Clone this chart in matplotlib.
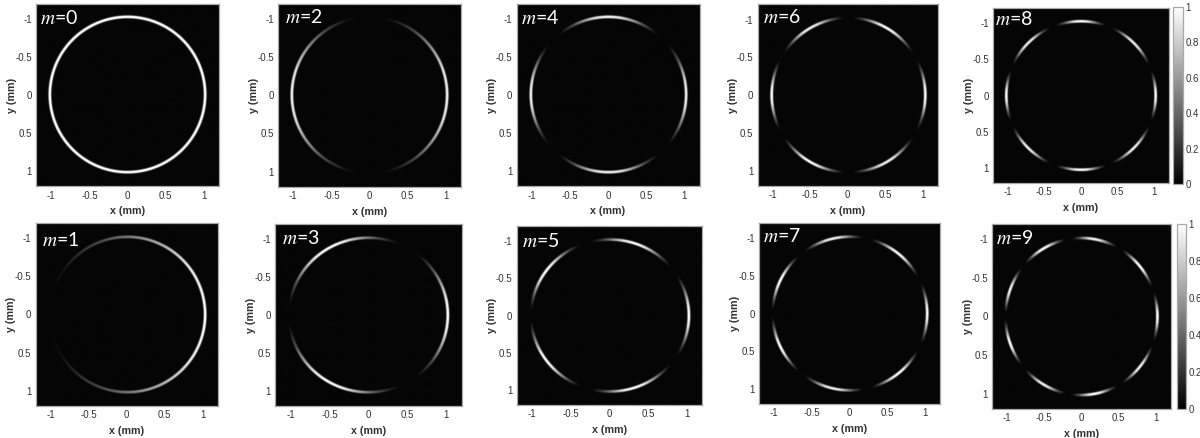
import numpy as np
import matplotlib
matplotlib.use("Agg")
import matplotlib.pyplot as plt

plt.rcParams['font.family'] = ['Liberation Sans', 'DejaVu Sans']
plt.rcParams['mathtext.fontset'] = 'stix'

# ---- data ----
modes = [0, 2, 4, 6, 8, 1, 3, 5, 7, 9]
tick_values = [-1, -0.5, 0, 0.5, 1]
tick_labels = ['-1', '-0.5', '0', '0.5', '1']
cbar_values = [0, 0.2, 0.4, 0.6, 0.8, 1]
cbar_labels = ['0', '0.2', '0.4', '0.6', '0.8', '1']

# dark nodes on the ring (degrees, counter-clockwise on screen from the right)
nodes_m1 = [180]
nodes_m2 = [90, 270]
nodes_m3 = [60, 180, 300]
nodes_m4 = [45, 135, 225, 315]
nodes_m5 = [36, 108, 180, 252, 324]
nodes_m6 = [30, 90, 150, 210, 270, 330]
nodes_m7 = [26, 77, 129, 180, 231, 283, 334]
nodes_m8 = [22, 68, 112, 158, 202, 248, 292, 338]
nodes_m9 = [20, 60, 100, 140, 180, 220, 260, 300, 340]

# peak brightness of the lobe that starts at each node
peaks_m1 = [1.0]
peaks_m2 = [0.95, 0.95]
peaks_m3 = [1.0, 1.0, 1.0]
peaks_m4 = [0.95, 0.95, 0.95, 0.95]
peaks_m5 = [1.0, 1.0, 1.0, 1.0, 1.0]
peaks_m6 = [1.0, 0.95, 1.0, 1.0, 0.95, 1.0]
peaks_m7 = [1.0, 0.95, 1.0, 1.0, 0.95, 1.0, 1.0]
peaks_m8 = [0.95, 1.0, 0.95, 1.0, 0.95, 1.0, 0.95, 1.0]
peaks_m9 = [1.0, 0.95, 1.0, 0.95, 1.0, 0.95, 1.0, 0.95, 1.0]

# brightness across one lobe, node to node
lobe_pos = [0, .05, .1, .2, .3, .4, .5, .6, .7, .8, .9, .95, 1]
lobe_val = [0, .02, .08, .3, .62, .92, 1, .92, .62, .3, .08, .02, 0]

# brightness across the ring, by radius in mm
ring_r = [0.99, 1.0, 1.009, 1.031, 1.04, 1.05]
ring_v = [0, 0.3, 1, 1, 0.3, 0]

nodes = {1: nodes_m1, 2: nodes_m2, 3: nodes_m3, 4: nodes_m4, 5: nodes_m5,
         6: nodes_m6, 7: nodes_m7, 8: nodes_m8, 9: nodes_m9}
peaks = {1: peaks_m1, 2: peaks_m2, 3: peaks_m3, 4: peaks_m4, 5: peaks_m5,
         6: peaks_m6, 7: peaks_m7, 8: peaks_m8, 9: peaks_m9}

# axes boxes in pixels: x0, x1, y0, y1 (y from top)
boxes = {
    0: (36, 219, 4, 186.5), 2: (278, 461, 3.5, 187), 4: (516.5, 699.5, 4, 186.5),
    6: (757.5, 938, 4.5, 186), 8: (993, 1169, 8, 183),
    1: (35.5, 218, 223, 406), 3: (275, 462, 224, 406), 5: (516.5, 702, 226, 405),
    7: (759, 940.5, 223, 404), 9: (992, 1171, 224, 409),
}
cbar_boxes = [(1173, 1183, 7, 184), (1176.7, 1186, 224, 409)]
# panel label anchor in pixels: left, baseline
label_xy = {
    0: (40, 24.3), 2: (285, 23.3), 4: (521, 24), 6: (763, 23.3), 8: (995, 25),
    1: (42, 246), 3: (282, 243.5), 5: (522, 247), 7: (763, 242), 9: (996, 243.5),
}

W, H = 1200, 438
fig = plt.figure(figsize=(W / 100, H / 100), dpi=100, facecolor='white')


def add_axes(b):
    x0, x1, y0, y1 = b
    return fig.add_axes([x0 / W, 1 - y1 / H, (x1 - x0) / W, (y1 - y0) / H])


def ring_image(m):
    g = np.linspace(-1.2, 1.2, 560)
    X, Y = np.meshgrid(g, g)
    R = np.hypot(X, Y)
    T = np.degrees(np.arctan2(-Y, X)) % 360
    radial = np.interp(R, ring_r, ring_v, left=0, right=0)
    if m == 0:
        return radial
    n = nodes[m]
    edges = np.array(n + [n[0] + 360])
    T2 = np.where(T < edges[0], T + 360, T)
    idx = np.clip(np.searchsorted(edges, T2, side='right') - 1, 0, len(n) - 1)
    u = (T2 - edges[idx]) / (edges[idx + 1] - edges[idx])
    return radial * np.interp(u, lobe_pos, lobe_val) * np.array(peaks[m])[idx]


FRAME = '#a8a8a8'
TEXT = '#333333'
images = {}
for m in modes:
    ax = add_axes(boxes[m])
    im = ax.imshow(np.clip(ring_image(m), 0.022, 1), cmap='gray', vmin=0, vmax=1,
                   extent=[-1.2, 1.2, 1.2, -1.2], aspect='auto',
                   interpolation='bilinear')
    images[m] = im
    ax.set_xticks(tick_values, tick_labels)
    ax.set_yticks(tick_values, tick_labels)
    ax.tick_params(length=0, pad=3, labelsize=7, labelcolor=TEXT)
    ax.set_xlabel('x (mm)', fontsize=7.7, fontweight='bold', color=TEXT, labelpad=4)
    ax.set_ylabel('y (mm)', fontsize=7.7, fontweight='bold', color=TEXT, labelpad=-1)
    for s in ax.spines.values():
        s.set_color(FRAME)
        s.set_linewidth(0.9)
    lx, ly = label_xy[m]
    fig.text(lx / W, 1 - ly / H, rf'$m$={m}', color='white', fontsize=14,
             family=['Lato', 'DejaVu Sans'], ha='left', va='baseline')

for b, m in zip(cbar_boxes, (8, 9)):
    cax = add_axes(b)
    cb = fig.colorbar(images[m], cax=cax)
    cb.set_ticks(cbar_values, labels=cbar_labels)
    cb.ax.tick_params(length=0, pad=2, labelsize=7, labelcolor=TEXT)
    cb.outline.set_edgecolor(FRAME)
    cb.outline.set_linewidth(0.9)

fig.savefig('out.png', dpi=100, facecolor='white')
